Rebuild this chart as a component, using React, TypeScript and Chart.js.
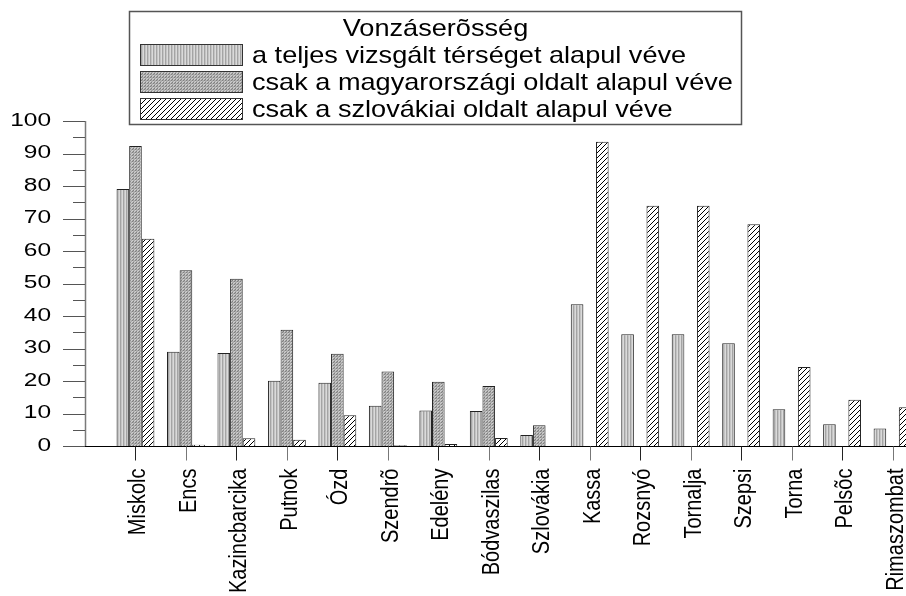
import React, { useEffect, useRef } from 'react';
import { Chart, registerables } from 'chart.js';

Chart.register(...registerables);

const CATEGORIES = ['Miskolc', 'Encs', 'Kazincbarcika', 'Putnok', 'Ózd', 'Szendrõ', 'Edelény', 'Bódvaszilas', 'Szlovákia', 'Kassa', 'Rozsnyó', 'Tornalja', 'Szepsi', 'Torna', 'Pelsõc', 'Rimaszombat'];
const LEGEND_TITLE = 'Vonzáserõsség';
const SERIES_LABELS = [
  'a teljes vizsgált térséget alapul véve',
  'csak a magyarországi oldalt alapul véve',
  'csak a szlovákiai oldalt alapul véve',
];
const TELJES = [79.1, 29.0, 28.6, 20.1, 19.5, 12.4, 10.9, 10.8, 3.4, 43.6, 34.4, 34.4, 31.6, 11.3, 6.7, 5.4];
const MAGYAR = [92.3, 54.1, 51.5, 35.8, 28.4, 22.9, 19.8, 18.5, 6.4, null, null, null, null, null, null, null];
const SZLOVAK = [63.8, 0.4, 2.4, 1.9, 9.5, 0.2, 0.6, 2.5, null, 93.6, 73.9, 73.9, 68.2, 24.3, 14.2, 11.9];
const Y_TICKS = [0, 10, 20, 30, 40, 50, 60, 70, 80, 90, 100];
const Y_MINOR = [5, 15, 25, 35, 45, 55, 65, 75, 85, 95];

const FONT = "'Liberation Sans', Arial, sans-serif";

function makePattern(kind: number): CanvasPattern | string {
  const c = document.createElement('canvas');
  const g = c.getContext('2d');
  if (!g) return '#ccc';
  if (kind === 0) {
    c.width = 3; c.height = 3;
    g.fillStyle = '#c4c4c4'; g.fillRect(0, 0, 3, 3);
    g.fillStyle = '#a4a4a4'; g.fillRect(0, 0, 1, 3);
    g.fillStyle = '#dadada'; g.fillRect(2, 0, 1, 3);
  } else if (kind === 1) {
    c.width = 3; c.height = 3;
    g.fillStyle = '#acacac'; g.fillRect(0, 0, 3, 3);
    g.fillStyle = '#808080'; g.fillRect(1, 1, 1, 1); g.fillRect(0, 2, 1, 1);
    g.fillStyle = '#d0d0d0'; g.fillRect(0, 0, 1, 1); g.fillRect(2, 1, 1, 1);
  } else {
    c.width = 5; c.height = 5;
    g.fillStyle = '#ffffff'; g.fillRect(0, 0, 5, 5);
    g.strokeStyle = '#000000'; g.lineWidth = 1;
    g.beginPath();
    g.moveTo(-1, 6); g.lineTo(6, -1);
    g.moveTo(-4, 4); g.lineTo(4, -4);
    g.moveTo(1, 9); g.lineTo(9, 1);
    g.stroke();
  }
  return g.createPattern(c, 'repeat') || '#ccc';
}

const overlayPlugin = {
  id: 'overlay',
  afterDraw(chart: any) {
    const { ctx, chartArea } = chart;
    const x = chart.scales.x;
    const y = chart.scales.y;
    const left = chartArea.left;
    const y0 = Math.round(y.getPixelForValue(0)) + 0.5;
    ctx.save();

    // y axis line
    ctx.strokeStyle = '#7a7a7a';
    ctx.lineWidth = 1.5;
    ctx.beginPath();
    ctx.moveTo(left + 0.5, y.getPixelForValue(100));
    ctx.lineTo(left + 0.5, y0);
    ctx.stroke();

    // y ticks
    ctx.strokeStyle = '#555';
    ctx.lineWidth = 1;
    Y_TICKS.forEach((v) => {
      const py = Math.round(y.getPixelForValue(v)) + 0.5;
      ctx.beginPath(); ctx.moveTo(left - 22, py); ctx.lineTo(left, py); ctx.stroke();
    });
    Y_MINOR.forEach((v) => {
      const py = Math.round(y.getPixelForValue(v)) + 0.5;
      ctx.beginPath(); ctx.moveTo(left - 12, py); ctx.lineTo(left, py); ctx.stroke();
    });

    // y labels
    ctx.fillStyle = '#000';
    ctx.font = `18px ${FONT}`;
    ctx.textAlign = 'right';
    ctx.textBaseline = 'middle';
    Y_TICKS.forEach((v) => {
      const py = y.getPixelForValue(v);
      ctx.save();
      ctx.translate(left - 34, py);
      ctx.scale(1.36, 1);
      ctx.fillText(String(v), 0, 0);
      ctx.restore();
    });

    // x axis line
    ctx.strokeStyle = '#000';
    ctx.lineWidth = 1;
    ctx.beginPath(); ctx.moveTo(left, y0); ctx.lineTo(chartArea.right, y0); ctx.stroke();

    // x ticks and labels
    ctx.font = `23px ${FONT}`;
    ctx.textAlign = 'right';
    ctx.textBaseline = 'alphabetic';
    CATEGORIES.forEach((name, i) => {
      const px = Math.round(x.getPixelForValue(i + 1)) + 0.5;
      ctx.strokeStyle = i % 2 === 0 ? '#222' : '#777';
      ctx.beginPath(); ctx.moveTo(px, y0); ctx.lineTo(px, y0 + 14); ctx.stroke();
      ctx.save();
      ctx.translate(px + 9.5, y0 + 22);
      ctx.rotate(-Math.PI / 2);
      ctx.scale(0.87, 1);
      ctx.fillText(name, 0, 0);
      ctx.restore();
    });

    // legend
    const bx = 129.5, by = 11.5, bw = 612, bh = 113;
    ctx.fillStyle = '#fff';
    ctx.fillRect(bx, by, bw, bh);
    ctx.strokeStyle = '#555';
    ctx.lineWidth = 1.5;
    ctx.strokeRect(bx, by, bw, bh);
    ctx.fillStyle = '#000';
    ctx.font = `24px ${FONT}`;
    ctx.textBaseline = 'middle';
    ctx.textAlign = 'center';
    ctx.save();
    ctx.translate(bx + bw / 2, 29);
    ctx.scale(1.13, 1);
    ctx.fillText(LEGEND_TITLE, 0, 0);
    ctx.restore();
    ctx.textAlign = 'left';
    chart.data.datasets.forEach((ds: any, i: number) => {
      const sy = 44 + i * 27;
      ctx.fillStyle = ds.backgroundColor;
      ctx.fillRect(140, sy, 103, 22);
      ctx.strokeStyle = '#333';
      ctx.lineWidth = 1;
      ctx.strokeRect(140.5, sy + 0.5, 102, 21);
      ctx.fillStyle = '#000';
      ctx.save();
      ctx.translate(252, sy + 12);
      ctx.scale(1.13, 1);
      ctx.fillText(ds.label, 0, 0);
      ctx.restore();
    });

    ctx.restore();
  },
};

export default function App() {
  const ref = useRef<HTMLCanvasElement | null>(null);
  useEffect(() => {
    if (!ref.current) return;
    const pad = (arr: (number | null)[]) => [null, ...arr, null];
    const chart = new Chart(ref.current, {
      type: 'bar',
      data: {
        labels: ['', ...CATEGORIES, ''],
        datasets: [
          { label: SERIES_LABELS[0], data: pad(TELJES), backgroundColor: makePattern(0) as any, borderColor: '#222', borderWidth: 1 },
          { label: SERIES_LABELS[1], data: pad(MAGYAR), backgroundColor: makePattern(1) as any, borderColor: '#222', borderWidth: 1 },
          { label: SERIES_LABELS[2], data: pad(SZLOVAK), backgroundColor: makePattern(2) as any, borderColor: '#222', borderWidth: 1 },
        ],
      },
      options: {
        animation: false,
        responsive: false,
        devicePixelRatio: 1,
        layout: { padding: { top: 121, left: 0, right: 0, bottom: 0 } },
        datasets: { bar: { categoryPercentage: 0.75, barPercentage: 1 } },
        plugins: { legend: { display: false }, tooltip: { enabled: false }, title: { display: false } },
        scales: {
          x: {
            type: 'category',
            offset: false,
            grid: { display: false },
            border: { display: false },
            ticks: { display: false, autoSkip: false },
            afterFit: (s: any) => { s.height = 150; },
          },
          y: {
            min: 0,
            max: 100,
            grid: { display: false },
            border: { display: false },
            ticks: { display: false },
            afterFit: (s: any) => { s.width = 85; },
          },
        },
      },
      plugins: [overlayPlugin],
    });
    return () => chart.destroy();
  }, []);
  return (
    <div style={{ position: 'fixed', left: 0, top: 0, width: 906, height: 596, overflow: 'hidden', background: '#fff' }}>
      <canvas ref={ref} width={943} height={596} style={{ display: 'block' }} />
    </div>
  );
}
